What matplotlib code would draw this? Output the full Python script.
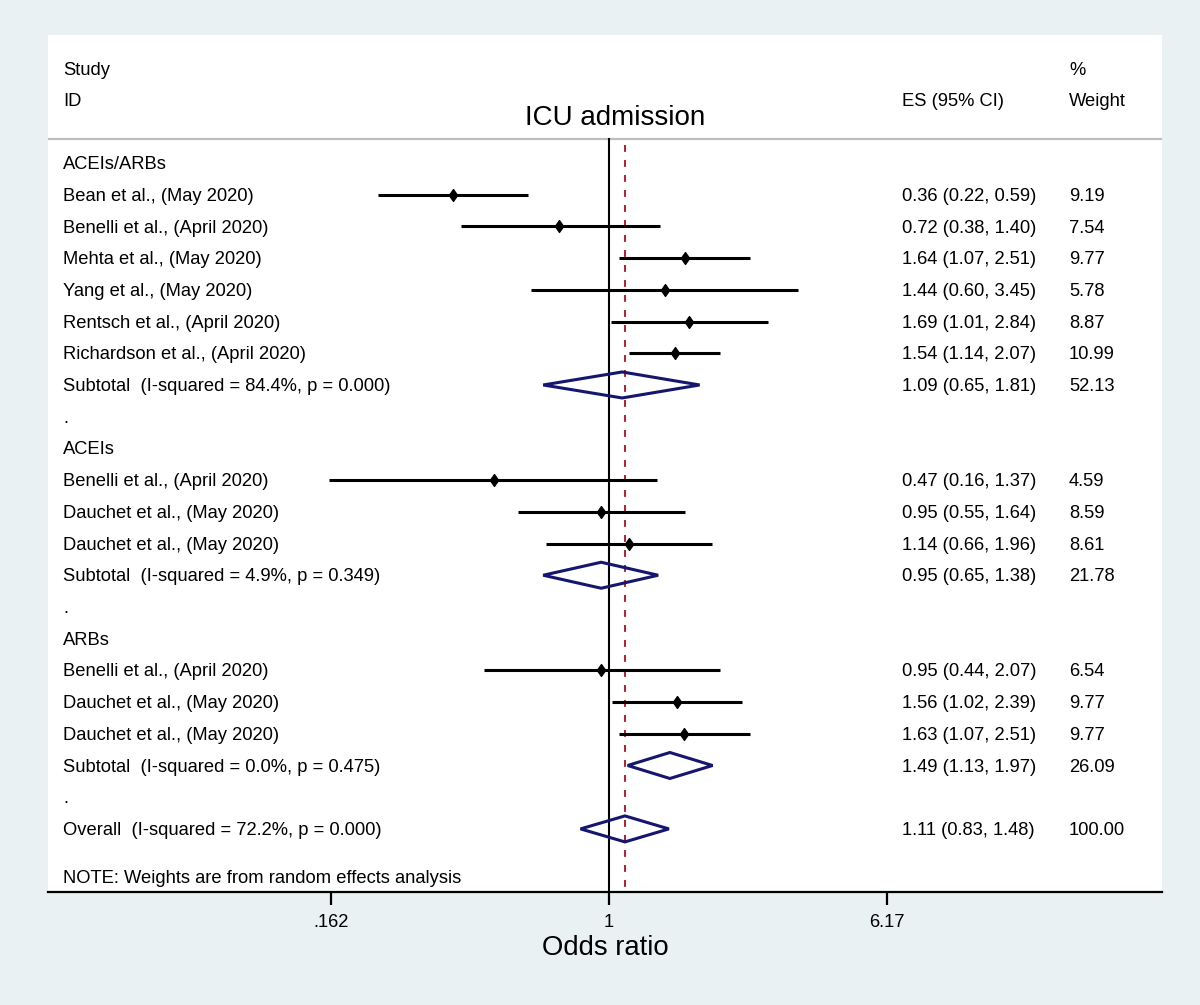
import matplotlib
matplotlib.use("Agg")
import matplotlib.pyplot as plt
import matplotlib.transforms as mtransforms
from matplotlib.path import Path
import numpy as np

plt.rcParams['font.family'] = ['Liberation Sans', 'DejaVu Sans']

# ---- data ----
labels = [
    "ACEIs/ARBs",
    "Bean et al., (May 2020)",
    "Benelli et al., (April 2020)",
    "Mehta et al., (May 2020)",
    "Yang et al., (May 2020)",
    "Rentsch et al., (April 2020)",
    "Richardson et al., (April 2020)",
    "Subtotal  (I-squared = 84.4%, p = 0.000)",
    ".",
    "ACEIs",
    "Benelli et al., (April 2020)",
    "Dauchet et al., (May 2020)",
    "Dauchet et al., (May 2020)",
    "Subtotal  (I-squared = 4.9%, p = 0.349)",
    ".",
    "ARBs",
    "Benelli et al., (April 2020)",
    "Dauchet et al., (May 2020)",
    "Dauchet et al., (May 2020)",
    "Subtotal  (I-squared = 0.0%, p = 0.475)",
    ".",
    "Overall  (I-squared = 72.2%, p = 0.000)",
]
kinds = ["group", "study", "study", "study", "study", "study", "study", "pooled", "blank",
         "group", "study", "study", "study", "pooled", "blank",
         "group", "study", "study", "study", "pooled", "blank",
         "pooled"]
es = [None, 0.36, 0.72, 1.64, 1.44, 1.69, 1.54, 1.09, None,
      None, 0.47, 0.95, 1.14, 0.95, None,
      None, 0.95, 1.56, 1.63, 1.49, None,
      1.11]
lo = [None, 0.22, 0.38, 1.07, 0.60, 1.01, 1.14, 0.65, None,
      None, 0.16, 0.55, 0.66, 0.65, None,
      None, 0.44, 1.02, 1.07, 1.13, None,
      0.83]
hi = [None, 0.59, 1.40, 2.51, 3.45, 2.84, 2.07, 1.81, None,
      None, 1.37, 1.64, 1.96, 1.38, None,
      None, 2.07, 2.39, 2.51, 1.97, None,
      1.48]
weights = [None, "9.19", "7.54", "9.77", "5.78", "8.87", "10.99", "52.13", None,
           None, "4.59", "8.59", "8.61", "21.78", None,
           None, "6.54", "9.77", "9.77", "26.09", None,
           "100.00"]
overall_es = 1.11
tick_vals = [0.162, 1.0, 6.17]
tick_labels = [".162", "1", "6.17"]
title = "ICU admission"
xlabel = "Odds ratio"
note = "NOTE: Weights are from random effects analysis"

# ---- figure ----
W, H = 1200, 1005
fig = plt.figure(figsize=(W / 100, H / 100), dpi=100, facecolor="#E9F1F3")
L, R, T, B = 48, 1162, 35, 892
ax = fig.add_axes([L / W, 1 - B / H, (R - L) / W, (B - T) / H])
ax.set_facecolor("white")
ax.set_xscale("log")

pxl = 152.7  # pixels per ln unit
x_one = 609
ax.set_xlim(np.exp((L - x_one) / pxl), np.exp((R - x_one) / pxl))
row0, sp = 163, 31.71
ax.set_ylim((B - row0) / sp, (T - row0) / sp)

for s in ["top", "left", "right"]:
    ax.spines[s].set_visible(False)
ax.spines["bottom"].set_linewidth(1.6)
ax.set_yticks([])
ax.set_xticks(tick_vals)
ax.set_xticklabels(tick_labels, fontsize=13.2)
ax.minorticks_off()
ax.tick_params(axis="x", direction="out", length=9.5, width=1.6, pad=6)
ax.set_xlabel(xlabel, fontsize=19.8, labelpad=3)

trans = mtransforms.blended_transform_factory(ax.transAxes, ax.transData)
fs = 13.2
tdy = 0.05  # small downward nudge for text rows
col_label = (63 - L) / (R - L)
col_es = (902 - L) / (R - L)
col_w = (1069 - L) / (R - L)

# header
hdr1 = (69 - row0) / sp + tdy
hdr2 = (100 - row0) / sp + tdy
ax.text(col_label, hdr1, "Study", transform=trans, fontsize=fs, va="center", ha="left")
ax.text(col_label, hdr2, "ID", transform=trans, fontsize=fs, va="center", ha="left")
ax.text(col_es, hdr2, "ES (95% CI)", transform=trans, fontsize=fs, va="center", ha="left")
ax.text(col_w, hdr1, "%", transform=trans, fontsize=fs, va="center", ha="left")
ax.text(col_w, hdr2, "Weight", transform=trans, fontsize=fs, va="center", ha="left")
ax.text((615 - L) / (R - L), (118 - row0) / sp, title, transform=trans, fontsize=20,
        va="center", ha="center")
line_y = (139 - row0) / sp
ax.plot([0, 1], [line_y, line_y], transform=trans, color="#BDBDBD", lw=1.6, zorder=1)

ybot = (B - row0) / sp
ax.plot([1, 1], [line_y, ybot], color="black", lw=1.5, zorder=2)
ax.plot([overall_es, overall_es], [line_y + 0.2, ybot], color="#9B2F3E", lw=1.5,
        dashes=(3.3, 3.9), zorder=2)

dmark = Path([(0, 1), (0.7, 0), (0, -1), (-0.7, 0), (0, 1)],
             [Path.MOVETO, Path.LINETO, Path.LINETO, Path.LINETO, Path.CLOSEPOLY])

for r, (lab, k) in enumerate(zip(labels, kinds)):
    ax.text(col_label, r + tdy, lab, transform=trans, fontsize=fs, va="center", ha="left")
    if es[r] is not None:
        ax.text(col_es, r + tdy, f"{es[r]:.2f} ({lo[r]:.2f}, {hi[r]:.2f})", transform=trans,
                fontsize=fs, va="center", ha="left")
        ax.text(col_w, r + tdy, weights[r], transform=trans, fontsize=fs, va="center", ha="left")
    if k == "study":
        ax.plot([lo[r], hi[r]], [r, r], color="black", lw=2.2, solid_capstyle="butt", zorder=3)
        ax.plot([es[r]], [r], marker=dmark, ms=8.5, color="black", zorder=4)
    elif k == "pooled":
        hh = 0.41
        ax.fill([lo[r], es[r], hi[r], es[r]], [r, r - hh, r, r + hh], facecolor="none",
                edgecolor="#16166E", lw=2.2, joinstyle="miter", zorder=4)

ax.text(col_label, (877 - row0) / sp + tdy, note, transform=trans, fontsize=fs,
        va="center", ha="left")

fig.savefig("out.png", dpi=100, facecolor=fig.get_facecolor())
